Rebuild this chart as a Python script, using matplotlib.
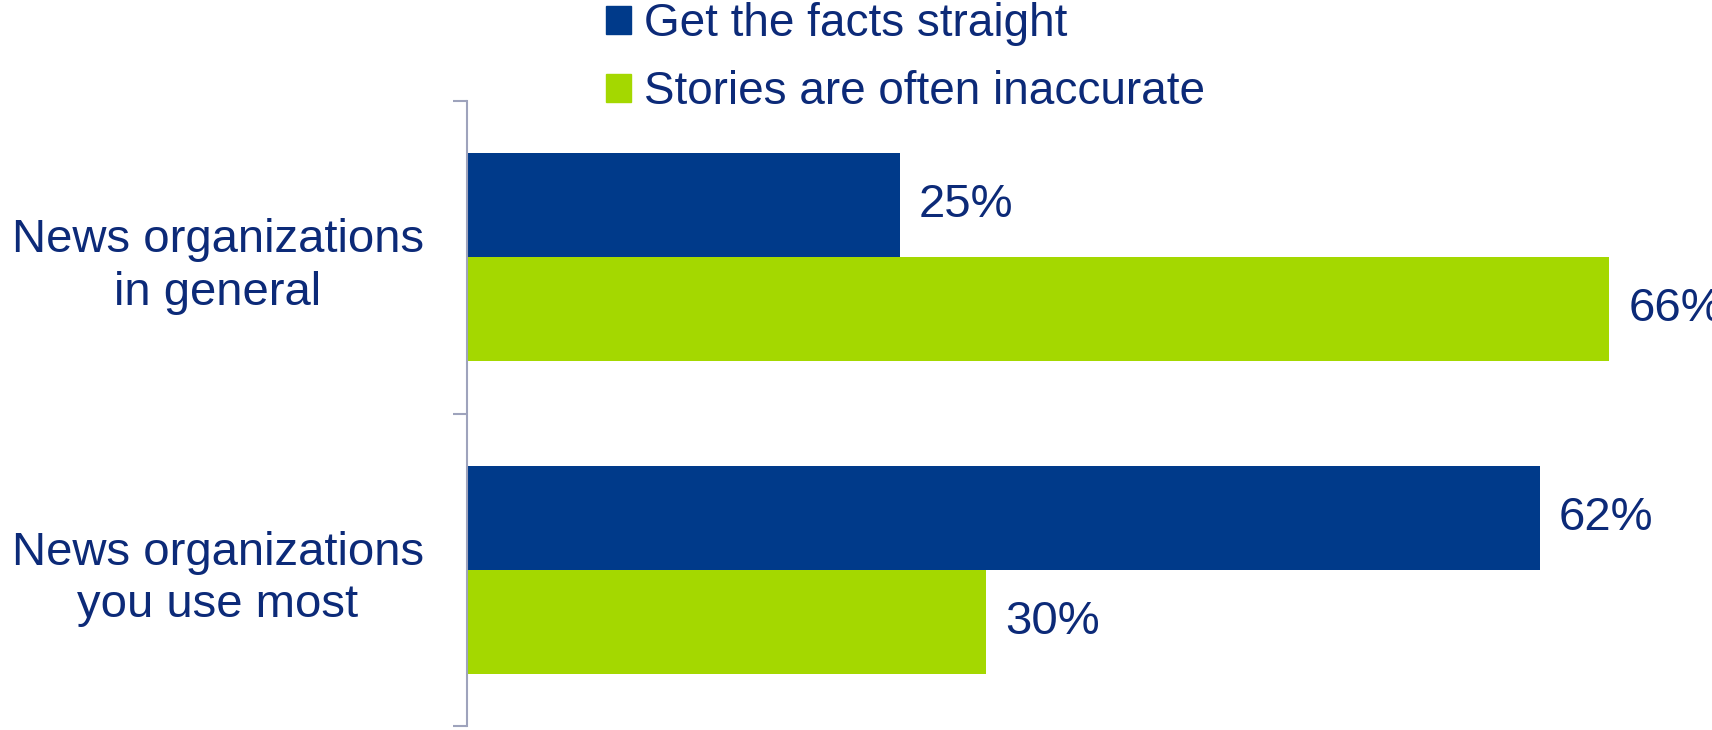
import numpy as np
import matplotlib
matplotlib.use("Agg")
import matplotlib.pyplot as plt
from matplotlib.patches import Patch

categories = ["News organizations\nin general", "News organizations\nyou use most"]
series_names = ["Get the facts straight", "Stories are often inaccurate"]
facts_straight = [25, 62]
often_inaccurate = [66, 30]

blue = "#003A8A"
green = "#A4D800"
text_col = "#0C2A78"
axis_col = "#9EA3BC"

plt.rcParams["font.family"] = ["Liberation Sans", "DejaVu Sans"]

W, H = 1712, 730
fig = plt.figure(figsize=(W / 100, H / 100), dpi=100)
left, right = 467 / W, (467 + 70 * 17.3) / W
bottom, top = 1 - 726 / H, 1 - 101 / H
ax = fig.add_axes([left, bottom, right - left, top - bottom])

y = np.arange(len(categories))
h = 1 / 3
b1 = ax.barh(y - h / 2, facts_straight, height=h, color=blue, label=series_names[0])
b2 = ax.barh(y + h / 2, often_inaccurate, height=h, color=green, label=series_names[1])
for bars in (b1, b2):
    ax.bar_label(bars, labels=[f"{v}%" for v in bars.datavalues], padding=14,
                 fontsize=34, color=text_col, clip_on=False)

ax.set_xlim(0, 70)
ax.set_ylim(len(categories) - 0.5, -0.5)

# category labels on minor ticks, boundary ticks as majors
ax.set_yticks(np.arange(len(categories) + 1) - 0.5)
ax.set_yticklabels([])
ax.set_yticks(y, minor=True)
ax.set_yticklabels(categories, minor=True, fontsize=34, color=text_col)
for t in ax.get_yticklabels(minor=True):
    t.set_multialignment("center")
    t.set_linespacing(1.25)
ax.tick_params(axis="y", which="major", length=10, width=1.5, color=axis_col)
ax.tick_params(axis="y", which="minor", length=0, pad=31)
ax.set_xticks([])

for s in ["top", "right", "bottom"]:
    ax.spines[s].set_visible(False)
ax.spines["left"].set_color(axis_col)
ax.spines["left"].set_linewidth(1.5)

handles = [Patch(color=blue), Patch(color=green)]
leg = fig.legend(handles, series_names, loc="upper left",
                 bbox_to_anchor=(606 / W, 1 - 2 / H), frameon=False, fontsize=33,
                 handlelength=0.55, handleheight=0.55, handletextpad=0.28,
                 labelspacing=0.53, borderpad=0, borderaxespad=0)
for t in leg.get_texts():
    t.set_color(text_col)

fig.savefig("out.png", dpi=100)
